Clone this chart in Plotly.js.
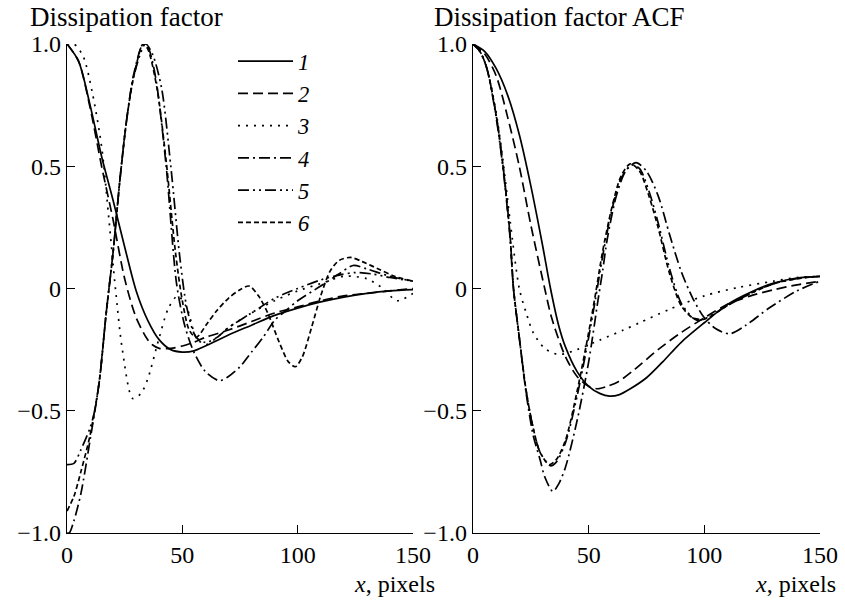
<!DOCTYPE html>
<html>
<head>
<meta charset="utf-8">
<script src="https://cdn.plot.ly/plotly-3.0.1.min.js"></script>
<style>html,body{margin:0;padding:0;background:#fff;}#chart{width:845px;height:603px;}</style>
</head>
<body>
<div id="chart"></div>
<script>
// ---- Labels ----
const legendNames = ['1', '2', '3', '4', '5', '6'];
const xTicks = [0, 50, 100, 150];
const yTicks = [-1, -0.5, 0, 0.5, 1];
const yTickText = ['\u22121.0', '\u22120.5', '0', '0.5', '1.0'];
const panelTitles = ['Dissipation factor', 'Dissipation factor ACF'];
const xAxisTitle = '<i>x</i>, pixels';

// ---- Data: left panel "Dissipation factor" ----
const L1x = [0,5,10,15,20,25,30,35,40,45,50,55,60,70,80,90,100,110,120,130,140,150];
const L1y = [1.0,0.93,0.75,0.54,0.36,0.17,-0.01,-0.13,-0.21,-0.25,-0.26,-0.255,-0.235,-0.19,-0.15,-0.11,-0.08,-0.055,-0.035,-0.02,-0.01,-0.005];

const L2x = [0,5,10,15,20,25,30,35,37,40,45,50,55,60,70,80,90,100,110,120,130,140,150];
const L2y = [1.0,0.93,0.74,0.5,0.28,0.04,-0.12,-0.21,-0.23,-0.245,-0.245,-0.235,-0.22,-0.2,-0.17,-0.135,-0.1,-0.075,-0.05,-0.03,-0.02,-0.01,0.0];

const L3x = [0,3,7,11,15,18,21,24,28.5,32,35,40,44,48,52,56,60,65,70,80,90,100,110,120,130,137,143,150];
const L3y = [1.0,1.0,0.95,0.8,0.58,0.3,0.0,-0.25,-0.45,-0.43,-0.37,-0.2,-0.08,-0.03,-0.08,-0.2,-0.23,-0.2,-0.16,-0.1,-0.05,-0.01,0.02,0.05,0.04,0.0,-0.05,-0.02];

const L4x = [0,1,3,6,10,14,17,20,23,26,29,33,35,37,39,43,47.5,51,55,60,66,70,75,80,85,90,95,100,110,118,124,130,140,150];
const L4y = [-1.0,-1.0,-0.95,-0.84,-0.62,-0.38,-0.1,0.15,0.45,0.7,0.88,1.0,0.99,0.93,0.83,0.5,0.02,-0.15,-0.26,-0.34,-0.377,-0.36,-0.32,-0.26,-0.2,-0.13,-0.09,-0.05,0.01,0.06,0.094,0.08,0.05,0.03];

const L5x = [0,3,6,10,12,14,17,20,23,26,29,34,37,41,45,49,52,56,60,65,70,80,90,100,110,118,125,132,140,150];
const L5y = [-0.72,-0.715,-0.66,-0.57,-0.5,-0.38,-0.1,0.15,0.45,0.7,0.87,1.0,0.96,0.82,0.5,0.12,-0.08,-0.2,-0.22,-0.2,-0.16,-0.1,-0.04,0.0,0.035,0.055,0.065,0.06,0.045,0.03];

const L6x = [0,3,6,10,14,17,20,23,26,29,33,35,39,43,47,50,53,56,61,65,70,75,79,83,87,92,96,99,102,106,110,114,118,123,128,135,142,150];
const L6y = [-0.91,-0.85,-0.75,-0.6,-0.38,-0.1,0.15,0.45,0.7,0.87,1.0,0.98,0.82,0.52,0.15,-0.05,-0.17,-0.2,-0.14,-0.09,-0.04,-0.005,0.01,-0.03,-0.1,-0.22,-0.3,-0.32,-0.28,-0.16,-0.03,0.07,0.115,0.127,0.11,0.08,0.05,0.03];

// ---- Data: right panel "Dissipation factor ACF" ----
const R1x = [0,5,10,15,20,25,30,33.5,37,40,45,50,55,59,63,68,75,82,90,100,110,120,130,140,150];
const R1y = [1.0,0.97,0.9,0.79,0.63,0.42,0.18,0.0,-0.15,-0.24,-0.34,-0.4,-0.43,-0.44,-0.435,-0.41,-0.365,-0.3,-0.22,-0.14,-0.065,-0.015,0.022,0.043,0.05];

const R2x = [0,5,10,15,20,25,31,34,40,45,50,54,58,63,70,80,90,100,110,120,130,140,150];
const R2y = [1.0,0.96,0.87,0.7,0.5,0.26,0.0,-0.12,-0.28,-0.36,-0.4,-0.41,-0.4,-0.38,-0.33,-0.25,-0.18,-0.12,-0.065,-0.03,-0.005,0.015,0.03];

const R3x = [0,3,6,10,13,16,20,23,26,31,37,45,55,65,72,85,100,115,130,140,150];
const R3y = [1.0,0.97,0.9,0.72,0.52,0.28,0.0,-0.1,-0.18,-0.245,-0.27,-0.25,-0.21,-0.17,-0.14,-0.085,-0.03,0.005,0.03,0.045,0.05];

const R4x = [0,3,6,10,13,16,17.5,20,23,26,29,31,34.5,37,40,45,50,54,56,58,62,66,70.5,75,80,85,90,95,100,105,111,118,128,140,150];
const R4y = [1.0,0.97,0.9,0.71,0.5,0.22,0.0,-0.2,-0.43,-0.6,-0.7,-0.77,-0.83,-0.8,-0.73,-0.54,-0.3,-0.05,0.07,0.2,0.38,0.48,0.515,0.48,0.38,0.22,0.07,-0.04,-0.12,-0.165,-0.185,-0.15,-0.08,-0.01,0.03];

const R5x = [0,3,6,10,13,16,17.5,20,23,26,29,33.5,36,40,45,50,53,56,60,64,68.5,72,76,80,85,90,95,97,100,110,120,130,140,150];
const R5y = [1.0,0.97,0.9,0.7,0.49,0.21,0.0,-0.2,-0.42,-0.57,-0.67,-0.725,-0.71,-0.63,-0.44,-0.2,-0.04,0.13,0.32,0.45,0.505,0.49,0.4,0.27,0.08,-0.06,-0.12,-0.13,-0.125,-0.07,-0.02,0.02,0.04,0.05];

const R6x = [0,3,6,10,13,16,17.5,20,23,26,29,33,36,40,45,50,53,56,60,64,68,72,76,80,85,90,95,100,110,120,130,140,150];
const R6y = [1.0,0.97,0.9,0.71,0.5,0.22,0.0,-0.2,-0.42,-0.57,-0.67,-0.72,-0.7,-0.62,-0.42,-0.18,-0.02,0.15,0.33,0.46,0.51,0.48,0.38,0.25,0.06,-0.07,-0.12,-0.125,-0.07,-0.02,0.02,0.04,0.05];

// ---- Styles ----
const dashes = ['solid', '10px,5px', '2px,6px', '11px,4px,2px,4px', '11px,4px,2px,4px,2px,4px', '5px,3px'];
const FONT = 'Liberation Serif, Times New Roman, serif';
const FS = 24;
const LW = 1.7;

const leftX = [L1x, L2x, L3x, L4x, L5x, L6x];
const leftY = [L1y, L2y, L3y, L4y, L5y, L6y];
const rightX = [R1x, R2x, R3x, R4x, R5x, R6x];
const rightY = [R1y, R2y, R3y, R4y, R5y, R6y];

const traces = [];
for (let i = 0; i < 6; i++) {
  traces.push({
    x: leftX[i], y: leftY[i], xaxis: 'x', yaxis: 'y', type: 'scatter', mode: 'lines',
    name: '<i>' + legendNames[i] + '</i>', legendgroup: 'g' + i, showlegend: true,
    line: {color: '#000', width: LW, dash: dashes[i], shape: 'spline', smoothing: 0.8}
  });
}
for (let i = 0; i < 6; i++) {
  traces.push({
    x: rightX[i], y: rightY[i], xaxis: 'x2', yaxis: 'y2', type: 'scatter', mode: 'lines',
    name: legendNames[i], legendgroup: 'g' + i, showlegend: false,
    line: {color: '#000', width: LW, dash: dashes[i], shape: 'spline', smoothing: 0.8}
  });
}

const W = 845, H = 603;
const px = v => v / W, py = v => 1 - v / H;

const axCommon = {
  showgrid: false, zeroline: false, showline: true, linecolor: '#000', linewidth: 1.3,
  ticks: 'inside', ticklen: 8, tickwidth: 1.3, tickcolor: '#000',
  tickfont: {family: FONT, size: FS, color: '#000'}, fixedrange: true
};
const yDom = [py(533), py(44)];

const layout = {
  width: W, height: H,
  margin: {l: 0, r: 0, t: 0, b: 0},
  paper_bgcolor: '#fff', plot_bgcolor: '#fff',
  showlegend: true,
  legend: {
    x: px(233), y: py(40), xanchor: 'left', yanchor: 'top',
    font: {family: FONT, size: 22.5, color: '#000'},
    traceorder: 'grouped', tracegroupgap: 0, itemwidth: 55,
    bgcolor: 'rgba(0,0,0,0)', borderwidth: 0
  },
  xaxis: Object.assign({}, axCommon, {domain: [px(67), px(413)], range: [0, 150], tickvals: xTicks, ticktext: xTicks.map(String), anchor: 'y'}),
  yaxis: Object.assign({}, axCommon, {domain: yDom, range: [-1, 1], tickvals: yTicks, ticktext: yTickText, anchor: 'x'}),
  xaxis2: Object.assign({}, axCommon, {domain: [px(473), px(820)], range: [0, 150], tickvals: xTicks, ticktext: xTicks.map(String), anchor: 'y2'}),
  yaxis2: Object.assign({}, axCommon, {domain: yDom, range: [-1, 1], tickvals: yTicks, ticktext: yTickText, anchor: 'x2'}),
  annotations: [
    {text: panelTitles[0], xref: 'paper', yref: 'paper', x: px(28), y: py(17), xanchor: 'left', yanchor: 'middle', showarrow: false, font: {family: FONT, size: 27, color: '#000'}},
    {text: panelTitles[1], xref: 'paper', yref: 'paper', x: px(432), y: py(17), xanchor: 'left', yanchor: 'middle', showarrow: false, font: {family: FONT, size: 27, color: '#000'}},
    {text: xAxisTitle, xref: 'paper', yref: 'paper', x: px(437), y: py(584), xanchor: 'right', yanchor: 'middle', showarrow: false, font: {family: FONT, size: FS, color: '#000'}},
    {text: xAxisTitle, xref: 'paper', yref: 'paper', x: px(838), y: py(584), xanchor: 'right', yanchor: 'middle', showarrow: false, font: {family: FONT, size: FS, color: '#000'}}
  ]
};

Plotly.newPlot('chart', traces, layout, {displayModeBar: false, staticPlot: true});
</script>
</body>
</html>
